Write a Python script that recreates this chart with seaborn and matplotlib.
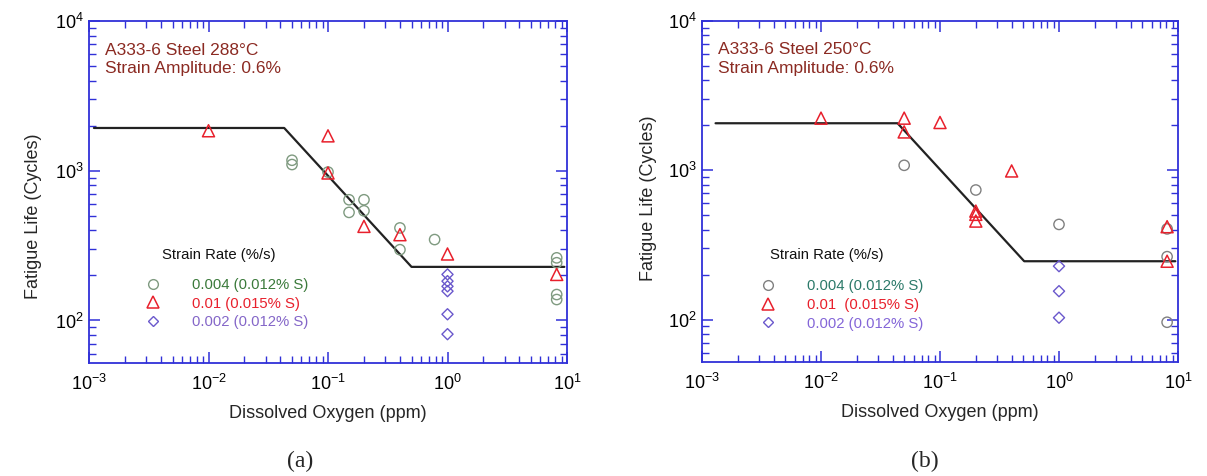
import numpy as np
import pandas as pd
import matplotlib
matplotlib.use("Agg")
import matplotlib.pyplot as plt
from matplotlib.lines import Line2D
from matplotlib.ticker import LogLocator, NullFormatter
import seaborn as sns

# ---------------- data ----------------
# Panel (a): A333-6 Steel 288°C
a_circle_x = [0.05, 0.05, 0.1, 0.15, 0.15, 0.2, 0.2, 0.4, 0.4, 0.78, 8.2, 8.2, 8.2, 8.2]
a_circle_y = [1175, 1100, 980, 640, 527, 640, 540, 415, 297, 347, 262, 243, 149, 138]
a_tri_x = [0.01, 0.1, 0.1, 0.2, 0.4, 1.0, 8.2]
a_tri_y = [1850, 1710, 966, 425, 374, 278, 203]
a_dia_x = [1.0, 1.0, 1.0, 1.0, 1.0, 1.0]
a_dia_y = [203, 183, 169, 157, 110, 81]
a_line_x = [0.0011, 0.043, 0.5, 9.5]
a_line_y = [1930, 1930, 228, 228]

# Panel (b): A333-6 Steel 250°C
b_circle_x = [0.05, 0.2, 1.0, 8.1, 8.1, 8.1]
b_circle_y = [1080, 738, 434, 405, 264, 96]
b_tri_x = [0.01, 0.05, 0.05, 0.1, 0.4, 0.2, 0.2, 0.2, 8.1, 8.1]
b_tri_y = [2235, 2235, 1807, 2090, 990, 533, 507, 457, 419, 246]
b_dia_x = [1.0, 1.0, 1.0]
b_dia_y = [228, 155, 103]
b_line_x = [0.0013, 0.044, 0.51, 9.5]
b_line_y = [2066, 2066, 246, 246]

titles = ["A333-6 Steel 288°C", "A333-6 Steel 250°C"]
subtitle = "Strain Amplitude: 0.6%"
legend_title = "Strain Rate (%/s)"
labels_a = ["0.004 (0.012% S)", "0.01 (0.015% S)", "0.002 (0.012% S)"]
labels_b = ["0.004 (0.012% S)", "0.01  (0.015% S)", "0.002 (0.012% S)"]
captions = ["(a)", "(b)"]
xlabel = "Dissolved Oxygen (ppm)"
ylabel = "Fatigue Life (Cycles)"

# ---------------- style ----------------
sns.set_style("white")
plt.rcParams["font.family"] = ["Liberation Sans", "DejaVu Sans"]

BLUE = "#3030d8"
RED = "#e8202c"
PURPLE = "#6a58cc"
TITLE_RED = "#8b2a22"

fig = plt.figure(figsize=(12.07, 4.76), dpi=100)
ax_a = fig.add_axes([89 / 1207, 113 / 476, 478 / 1207, 342 / 476])
ax_b = fig.add_axes([702 / 1207, 114 / 476, 476 / 1207, 341 / 476])

panels = [
    dict(ax=ax_a, cx=a_circle_x, cy=a_circle_y, tx=a_tri_x, ty=a_tri_y, dx=a_dia_x, dy=a_dia_y,
         lx=a_line_x, ly=a_line_y, ccol="#7f9a80", tcols=["#3b7a3b", RED, "#8466c8"],
         labs=labels_a, ttl=titles[0], ylab=(-0.098, 0.43), legt=(0.153, 0.316),
         leg=(0.118, 0.249)),
    dict(ax=ax_b, cx=b_circle_x, cy=b_circle_y, tx=b_tri_x, ty=b_tri_y, dx=b_dia_x, dy=b_dia_y,
         lx=b_line_x, ly=b_line_y, ccol="#808080", tcols=["#2c7a6a", RED, "#8466d8"],
         labs=labels_b, ttl=titles[1], ylab=(-0.095, 0.48), legt=(0.143, 0.314),
         leg=(0.123, 0.243)),
]

for p in panels:
    ax = p["ax"]
    sns.lineplot(x=p["lx"], y=p["ly"], ax=ax, color="#222222", lw=1.6, sort=False, estimator=None)
    sns.scatterplot(x=p["cx"], y=p["cy"], ax=ax, marker="o", s=55, fc="none", ec=p["ccol"],
                    linewidth=1.0, zorder=3)
    sns.scatterplot(x=p["tx"], y=p["ty"], ax=ax, marker="^", s=75, fc="none", ec=RED,
                    linewidth=1.1, zorder=3)
    sns.scatterplot(x=p["dx"], y=p["dy"], ax=ax, marker="D", s=32, fc="none", ec=PURPLE,
                    linewidth=1.0, zorder=3)

    ax.set_xscale("log")
    ax.set_yscale("log")
    ax.set_xlim(1e-3, 1e1)
    ax.set_ylim(52, 1e4)
    ax.xaxis.set_major_locator(LogLocator(base=10, numticks=10))
    ax.xaxis.set_minor_locator(LogLocator(base=10, subs=np.arange(2, 10), numticks=50))
    ax.yaxis.set_major_locator(LogLocator(base=10, numticks=10))
    ax.yaxis.set_minor_locator(LogLocator(base=10, subs=np.arange(2, 10), numticks=50))
    ax.xaxis.set_minor_formatter(NullFormatter())
    ax.yaxis.set_minor_formatter(NullFormatter())

    for sp in ax.spines.values():
        sp.set_color(BLUE)
        sp.set_linewidth(1.3)
    ax.tick_params(which="both", direction="in", top=True, right=True, bottom=True, left=True,
                   color=BLUE, labelcolor="black", labelsize=13)
    ax.tick_params(which="major", length=8, width=1.1)
    ax.tick_params(which="minor", length=5, width=1.0)
    ax.tick_params(axis="x", which="major", pad=8)
    ax.tick_params(axis="y", which="major", pad=4)

    ax.set_xlabel(xlabel, fontsize=13)
    ax.set_ylabel(ylabel, fontsize=13)
    ax.xaxis.set_label_coords(0.5, -0.123)
    ax.yaxis.set_label_coords(*p["ylab"])

    ax.text(0.033, 0.915, p["ttl"], transform=ax.transAxes, color=TITLE_RED, fontsize=12.5,
            va="center")
    ax.text(0.033, 0.86, subtitle, transform=ax.transAxes, color=TITLE_RED, fontsize=12.5,
            va="center")

    ax.text(p["legt"][0], p["legt"][1], legend_title, transform=ax.transAxes, color="#111111",
            fontsize=10.7, va="center")

    handles = [
        Line2D([], [], ls="none", marker="o", ms=7, mfc="none", mec=p["ccol"], mew=1.0),
        Line2D([], [], ls="none", marker="^", ms=8, mfc="none", mec=RED, mew=1.1),
        Line2D([], [], ls="none", marker="D", ms=5.5, mfc="none", mec=PURPLE, mew=1.0),
    ]
    leg = ax.legend(handles, p["labs"], loc="upper left",
                    bbox_to_anchor=p["leg"], frameon=False, fontsize=10.7,
                    handlelength=1.0, handletextpad=2.12,
                    labelspacing=0.32, borderpad=0.0, borderaxespad=0.0)
    for t, c in zip(leg.get_texts(), p["tcols"]):
        t.set_color(c)

fig.text(300 / 1207, 1 - 461 / 476, captions[0], family=["Liberation Serif", "DejaVu Serif"],
         fontsize=17, ha="center", va="center")
fig.text(925 / 1207, 1 - 461 / 476, captions[1], family=["Liberation Serif", "DejaVu Serif"],
         fontsize=17, ha="center", va="center")

fig.savefig("out.png", dpi=100)
